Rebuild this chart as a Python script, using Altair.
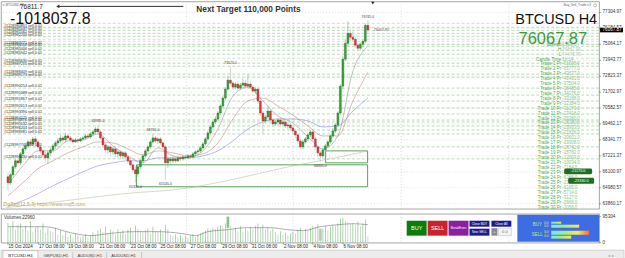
import altair as alt
import pandas as pd

FONT = "Liberation Sans"

# ---------------- BTCUSD H4 candles ----------------
opens = [65755,65335,65895,66455,66875,66735,67365,67715,67925,68205,
         68065,68415,68205,67855,67575,67295,67085,67435,67645,67925,
         68135,68275,68485,68345,68625,68485,68345,68205,68345,68275,
         68415,68485,68625,68555,68765,68905,69115,68905,68485,67995,
         67645,67855,67505,67715,67365,67505,67225,67435,67155,66875,
         66595,66245,65965,66455,66875,67225,67575,67855,68205,68485,
         68275,68415,68135,67855,66735,67015,66875,67015,66875,67085,
         67015,67155,67085,67225,67155,67365,67505,67575,67785,68065,
         68415,68835,69255,69605,69815,70235,70725,71285,71915,72545,
         72335,72055,72265,71985,72195,72335,72125,72265,72055,71775,
         71915,71075,70235,69675,69955,70375,69745,69465,69605,69745,
         69465,69605,69325,69395,69185,68975,68695,68275,67855,68205,
         68415,68695,68905,68415,67855,67435,67225,67645,67925,68205,
         68625,68975,69395,70235,72125,74015,75135,75835,75555,75415,
         74995,74785,75065,75275,76395]
highs = [66035,66035,66595,67015,67085,67505,67855,68065,68345,68415,
         68555,68625,68345,67995,67715,67505,67575,67785,68065,68275,
         68485,68695,68625,68835,68765,68625,68485,68485,68485,68555,
         68625,68765,68765,68905,69045,69255,69395,69045,68625,68135,
         67995,67995,67855,67855,67715,67645,67575,67575,67295,67085,
         66735,66455,66595,67015,67365,67715,67995,68345,68765,68625,
         68555,68555,68275,67995,67155,67155,67155,67155,67225,67225,
         67295,67295,67365,67365,67505,67645,67715,67925,68205,68555,
         68975,69395,69745,70025,70375,70865,71425,72055,72825,73525,
         72475,72405,72475,72335,72685,72545,72965,72475,72195,72055,
         72055,71215,70375,70095,70725,70515,69885,69745,69885,69885,
         69745,69745,69535,69535,69325,69115,68835,68415,68345,68555,
         68835,69045,69045,68555,67995,67575,67785,68065,68345,68765,
         69185,69535,70375,72265,74225,75415,76675,76115,75975,75555,
         75135,75205,75415,76535,76745]
lows = [64775,65195,65755,66315,66525,66595,67225,67575,67785,67855,
        67925,68065,67715,67365,67085,66805,66665,67225,67505,67715,
        67855,68135,68205,68205,68345,68205,68065,68135,68135,68205,
        68275,68345,68415,68415,68625,68765,68765,68345,67785,67435,
        67365,67225,67295,67155,67085,67015,67015,66945,66665,66385,
        66035,65335,65755,66315,66735,67085,67435,67715,68065,68135,
        68065,67995,67715,65545,66385,66665,66735,66735,66805,66875,
        66875,66945,67015,67015,67085,67225,67365,67435,67645,67925,
        68275,68695,69115,69465,69675,70095,70585,71145,71775,72195,
        71845,71915,71775,71845,71985,71915,71985,71915,71635,71565,
        70865,70025,68765,69465,69815,69535,69255,69325,69395,69255,
        69325,69185,69115,68975,68765,68485,68065,67715,67715,68065,
        68275,68555,68205,67645,67155,66805,67085,67505,67785,68065,
        68485,68835,69255,70095,71915,73875,74925,75275,75275,74785,
        74575,74645,74855,75135,75905]
closes = [65335,65895,66455,66875,66735,67365,67715,67925,68205,68065,
          68415,68205,67855,67575,67295,67085,67435,67645,67925,68135,
          68275,68485,68345,68625,68485,68345,68205,68345,68275,68415,
          68485,68625,68555,68765,68905,69115,68905,68485,67995,67645,
          67855,67505,67715,67365,67505,67225,67435,67155,66875,66595,
          66245,65965,66455,66875,67225,67575,67855,68205,68485,68275,
          68415,68135,67855,66735,67015,66875,67015,66875,67085,67015,
          67155,67085,67225,67155,67365,67505,67575,67785,68065,68415,
          68835,69255,69605,69815,70235,70725,71285,71915,72545,72335,
          72055,72265,71985,72195,72335,72125,72265,72055,71775,71915,
          71075,70235,69675,69955,70375,69745,69465,69605,69745,69465,
          69605,69325,69395,69185,68975,68695,68275,67855,68205,68415,
          68695,68905,68415,67855,67435,67225,67645,67925,68205,68625,
          68975,69395,70235,72125,74015,75135,75835,75555,75415,74995,
          74785,75065,75275,76395,76067.87]
volumes = [72000,55000,80000,48000,65000,70000, 50000,62000,45000,78000,40000,55000,
           60000,48000,70000,35000,52000,44000, 38000,55000,30000,46000,28000,40000,
           22000,30000,18000,35000,25000,20000, 24000,32000,20000,28000,38000,30000,
           45000,52000,40000,58000,36000,48000, 42000,30000,50000,38000,46000,34000,
           48000,55000,40000,62000,50000,44000, 38000,46000,52000,35000,58000,42000,
           40000,48000,36000,66000,50000,30000, 24000,30000,20000,28000,18000,25000,
           20000,26000,32000,22000,28000,35000, 38000,45000,52000,48000,55000,50000,
           58000,65000,60000,70000,95304,62000, 48000,55000,42000,60000,38000,52000,
           45000,58000,50000,62000,70000,55000, 66000,48000,58000,44000,52000,40000,
           30000,42000,28000,36000,25000,34000, 40000,35000,48000,55000,42000,50000,
           46000,55000,62000,58000,68000,51000, 52000,60000,45000,58000,66000,62000,
           70000,88000,92000,80000,75000,68000, 72000,65000,78000,60000,70000,85000,
           22960]

# ---------------- indicator lines (read at sample bars) ----------------
ma_idx = [0,6,12,18,24,30,36,42,48,54,60,66,72,78,84,90,96,102,108,114,120,126,132,138,144]
ma_fast = [65195,66525,67575,67575,68275,68345,68765,67925,67225,66735,67785,67225,67085,
           67575,69115,71425,72055,71075,70025,69535,68555,67715,68625,73175,74925]
ma_mid = [64425,65335,66315,66875,67435,67855,68205,68135,67715,67295,67575,67435,67225,
          67365,68135,69815,71075,71285,70725,70095,69325,68625,68625,71075,73105]
ma_slow = [63725,64075,64565,65125,65615,66105,66525,66735,66875,66875,67085,67085,67085,
           67225,67575,68275,69115,69605,69815,69815,69675,69255,69325,70375,71285]
ma_long_idx = [-0.8,23,46,70,93,114,129,144]
ma_long = [63585,64075,64565,64915,65685,66525,67015,67575]
vol_ma_idx = [0,15,25,33,40,50,60,70,75,80,88,95,105,112,118,125,132,138,144]
vol_ma = [58650,58650,36655,25660,32990,40320,40320,32990,25660,40320,47650,54980,
          54980,47650,43985,58650,65980,69645,65980]

# ---------------- axes, levels, labels ----------------
price_ticks = [77304.97,76184.57,75064.17,73943.77,72823.37,71702.97,70582.57,
               69462.17,68341.77,67221.37,66100.97,64980.57,63860.17]
current_price = 76067.87
volume_max = 95304
date_pos = [0,12.2,23.9,36.5,49.0,60.8,72.9,85.5,97.3,110.2,122.0,134.1]
date_labels = ["15 Oct 2024","17 Oct 08:00","19 Oct 08:00","21 Oct 08:00","23 Oct 08:00",
               "25 Oct 08:00","27 Oct 08:00","29 Oct 08:00","31 Oct 08:00","2 Nov 08:00",
               "4 Nov 08:00","6 Nov 08:00"]
grid_pos = [28.2,71.4,114.1,157.3,200.4]

trade_levels = [76255,76045,75835,75625,75065,74925,74645,74365,73735,73525,72965,72755,
                71985,71495,71075,70585,70165,69745,69605,69325,69045,68765,67855,67015]
trade_ids = ["#1228980891","#1228981037","#1228981562","#1228982204","#1228983771",
             "#1228984318","#1228985006","#1228985942","#1228986630","#1228987215",
             "#1228988409","#1228989173","#1228990254","#1228991088","#1228991867",
             "#1228992613","#1228993390","#1228994125","#1228994876","#1228995532",
             "#1228996204","#1228996981","#1228997745","#1228998430"]
extra_levels = [76535,75415,75275,74085]

zone_i1 = [127.1,51.4]
zone_i2 = [143.9,143.9]
zone_hi = [67575,66595]
zone_lo = [66735,65055]

zz_idx = [36,51,58,63,89,125,144]
zz_kind = ["H","L","H","L","H","L","H"]

info_names = ["Spread","H","L","Candle Time"] + ["Trade %d Pr" % n for n in range(1, 31)]
info_values = ["1560.0","76887.99","74476.76","1h:14",
               "-61608.0","-55777.0","-43677.0","-41431.0","-37504.0","-36485.0","-34176.0",
               "-33188.0","-32384.0","-31273.0","-27418.0","-26380.0","-26380.0","-23933.0",
               "-21826.0","-20601.0","-19308.0","-18742.0","-15782.0","-12003.0","-10034.0",
               "-7184.0","-21170.0","-6388.0","-23330.0","-6165.0","-5714.0","-3127.0",
               "-2968.0","-2056.0"]

# ---------------- frames ----------------
n = len(opens)
cdf = pd.DataFrame({"i": list(range(n)), "o": opens, "h": highs, "l": lows, "c": closes, "v": volumes})
cdf["dir"] = ["up" if c >= o else "down" for o, c in zip(opens, closes)]
cdf["vdir"] = ["up" if k == 0 or volumes[k] >= volumes[k - 1] else "down" for k in range(n)]

XS = alt.Scale(domain=[-0.784, 234.51], nice=False, zero=False)
YS = alt.Scale(domain=[63509.06, 78075.30], nice=False, zero=False)
VS = alt.Scale(domain=[0, 106300], nice=False)


def X(f):
    return alt.X(f, type="quantitative", scale=XS, axis=None)


def Y(f):
    return alt.Y(f, type="quantitative", scale=YS, axis=None)


def V(f):
    return alt.Y(f, type="quantitative", scale=VS, axis=None)


def one():
    return pd.DataFrame({"a": [0]})


def txt(t, x, y, size, color, align="left", weight="normal", baseline="middle", font=FONT):
    return alt.Chart(pd.DataFrame({"t": [t]})).mark_text(
        align=align, baseline=baseline, fontSize=size, color=color, fontWeight=weight, font=font
    ).encode(x=alt.value(x), y=alt.value(y), text="t:N")


def box(x1, x2, y1, y2, fill, stroke="", sw=0.0, r=0.0):
    kw = dict(fill=fill)
    if stroke:
        kw["stroke"] = stroke
        kw["strokeWidth"] = sw
    if r:
        kw["cornerRadius"] = r
    return alt.Chart(one()).mark_rect(**kw).encode(
        x=alt.value(x1), x2=alt.value(x2), y=alt.value(y1), y2=alt.value(y2))


# ---------------- main price panel ----------------
tdf = pd.DataFrame({"p": price_ticks, "t": ["%.2f" % p for p in price_ticks]})
hgrid = alt.Chart(tdf).mark_rule(color="#cdcdcd", strokeDash=[1, 2], strokeWidth=0.6).encode(y=Y("p"))
pticks = alt.Chart(tdf).mark_rule(color="#666", strokeWidth=0.6).encode(
    y=Y("p"), x=alt.value(600), x2=alt.value(602))
plabels = alt.Chart(tdf).mark_text(align="left", fontSize=4.6, font=FONT, color="#333").encode(
    y=Y("p"), x=alt.value(603.5), text="t:N")

vgrid = alt.Chart(pd.DataFrame({"i": grid_pos})).mark_rule(
    color="#bdbdbd", strokeDash=[1, 2], strokeWidth=0.6).encode(x=X("i"))

lvl = pd.DataFrame({"p": trade_levels + extra_levels,
                    "kind": ["trade"] * len(trade_levels) + ["extra"] * len(extra_levels)})
levels = alt.Chart(lvl).mark_rule(strokeDash=[3, 2], strokeWidth=0.6).encode(
    y=Y("p"), color=alt.Color("kind:N", scale=alt.Scale(domain=["trade", "extra"],
                                                        range=["#86c286", "#b5c9b5"]), legend=None))

lab = pd.DataFrame({"p": trade_levels, "t": [tid + " sell 0.01" for tid in trade_ids]})
level_labels = alt.Chart(lab).mark_text(align="left", baseline="bottom", fontSize=3.8, font=FONT,
                                        color="#2e2e2e", dy=0.3).encode(
    x=alt.value(3), y=Y("p"), text="t:N")

zdf = pd.DataFrame({"i1": zone_i1, "i2": zone_i2, "hi": zone_hi, "lo": zone_lo})
zones = alt.Chart(zdf).mark_rect(fillOpacity=0, stroke="#2f8a2f", strokeWidth=0.8).encode(
    x=X("i1"), x2="i2", y=Y("hi"), y2="lo")


def ma_line(idx, vals, color, w=0.55):
    d = pd.DataFrame({"i": idx, "p": vals})
    return alt.Chart(d).mark_line(color=color, strokeWidth=w, interpolate="monotone").encode(
        x=X("i"), y=Y("p"))


dirs = alt.Scale(domain=["up", "down"], range=["#35a835", "#e5353d"])
edge = alt.Scale(domain=["up", "down"], range=["#155515", "#8a1d1d"])
wicks = alt.Chart(cdf).mark_rule(strokeWidth=0.7).encode(
    x=X("i"), y=Y("l"), y2="h", color=alt.Color("dir:N", scale=dirs, legend=None))
bodies = alt.Chart(cdf).mark_bar(size=1.9, strokeWidth=0.35).encode(
    x=X("i"), y=Y("o"), y2="c",
    fill=alt.Fill("dir:N", scale=dirs, legend=None),
    stroke=alt.Stroke("dir:N", scale=edge, legend=None))

zz = pd.DataFrame({"i": zz_idx, "kind": zz_kind})
zz["p"] = [highs[k] if kd == "H" else lows[k] for k, kd in zip(zz_idx, zz_kind)]
zz["t"] = ["%.1f" % p for p in zz["p"]]
zz_hi = alt.Chart(zz[zz.kind == "H"]).mark_text(fontSize=3.6, font=FONT, color="#444", baseline="bottom", dy=-1.5).encode(
    x=X("i"), y=Y("p"), text="t:N")
zz_lo = alt.Chart(zz[zz.kind == "L"]).mark_text(fontSize=3.6, font=FONT, color="#444", baseline="top", dy=2).encode(
    x=X("i"), y=Y("p"), text="t:N")

last_lbl = alt.Chart(pd.DataFrame({"i": [n - 1], "p": [current_price], "t": ["%.2f" % current_price]})).mark_text(
    fontSize=3.6, font=FONT, color="#555", align="left", dx=6).encode(x=X("i"), y=Y("p"), text="t:N")

price_box = alt.Chart(one()).mark_rect(fill="#000").encode(
    x=alt.value(601), x2=alt.value(624),
    y=alt.datum(current_price + 165), y2=alt.datum(current_price - 165))
price_box_txt = alt.Chart(pd.DataFrame({"t": ["%.2f" % current_price]})).mark_text(
    align="left", fontSize=4.6, font=FONT, color="#fff").encode(
    x=alt.value(603.5), y=alt.datum(current_price), text="t:N")

# right-hand info column
info = pd.DataFrame({"name": info_names, "val": info_values})
info["ypx"] = [44, 49, 53.8, 58.3] + [62.7 + 4.98 * k for k in range(30)]
info["vcol"] = ["black", "green", "green", "black"] + ["black"] * 30
info_lbl = alt.Chart(info).mark_text(align="right", fontSize=4.5, font=FONT, color="#4caf50").encode(
    x=alt.value(562), y=alt.Y("ypx:Q", scale=None), text="name:N")
info_val = alt.Chart(info).mark_text(align="left", fontSize=4.5, font=FONT).encode(
    x=alt.value(563), y=alt.Y("ypx:Q", scale=None), text="val:N",
    color=alt.Color("vcol:N", scale=alt.Scale(domain=["black", "green"], range=["#111", "#4caf50"]), legend=None))

main_layers = [
    hgrid, vgrid, levels, zones,
    ma_line(ma_long_idx, ma_long, "#b9c2a3", 0.6),
    ma_line(ma_idx, ma_slow, "#7c82d2"),
    ma_line(ma_idx, ma_mid, "#c07f7a"),
    ma_line(ma_idx, ma_fast, "#8c8c8c"),
    wicks, bodies, zz_hi, zz_lo, last_lbl, level_labels, info_lbl, info_val,
    box(565, 593, 167.5, 173.5, "#1f6e1f", r=1.5),
    txt("-21170.0", 579, 170.5, 3.8, "#fff", align="center"),
    box(569, 595, 177, 183, "#1f6e1f", r=1.5),
    txt("-23330.0", 582, 180, 3.8, "#fff", align="center"),
    pticks, plabels, price_box, price_box_txt,
    # header
    txt("\u25be BTCUSD,H4", 2, 3.5, 3.2, "#555"),
    txt("76811.7", 19, 6, 6.5, "#222"),
    alt.Chart(one()).mark_rule(color="#333", strokeWidth=1).encode(
        x=alt.value(57), x2=alt.value(183), y=alt.value(5)),
    alt.Chart(one()).mark_point(shape="triangle-left", filled=True, size=14, color="#333", opacity=1).encode(
        x=alt.value(57), y=alt.value(5)),
    alt.Chart(one()).mark_point(shape="triangle-down", filled=True, size=10, color="#222", opacity=1).encode(
        x=alt.value(373), y=alt.value(1.8)),
    txt("-1018037.8", 9, 23, 16, "#111", baseline="alphabetic"),
    txt("Next Target 110,000 Points", 196, 11, 8.3, "#333", weight="bold", baseline="alphabetic"),
    txt("BTCUSD H4", 598, 23, 14.5, "#111", align="right", baseline="alphabetic"),
    txt("76067.87", 588, 42.5, 16.5, "#3b9b3b", align="right", baseline="alphabetic"),
    txt("Buy_Sell_Trade v.3", 592, 4, 3.2, "#666", align="right"),
    alt.Chart(one()).mark_point(shape="circle", size=9, color="#666", strokeWidth=0.6).encode(
        x=alt.value(596), y=alt.value(4)),
    txt("ZigZag(12,5,3) https://www.mql5.com", 2, 203, 5, "#c9a640"),
]
main = alt.layer(*main_layers).properties(width=600, height=208)

# ---------------- volume panel ----------------
vtdf = pd.DataFrame({"v": [0, volume_max], "t": ["0", str(volume_max)]})
vlabels = alt.Chart(vtdf).mark_text(align="left", fontSize=4.6, font=FONT, color="#333").encode(
    y=V("v"), x=alt.value(603.5), text="t:N")
vticks = alt.Chart(vtdf).mark_rule(color="#666", strokeWidth=0.6).encode(
    y=V("v"), x=alt.value(600), x2=alt.value(602))
vgrid2 = alt.Chart(pd.DataFrame({"i": grid_pos})).mark_rule(
    color="#bdbdbd", strokeDash=[1, 2], strokeWidth=0.6).encode(x=X("i"))
vbars = alt.Chart(cdf).mark_bar(size=0.7).encode(
    x=X("i"), y=V("v"),
    color=alt.Color("vdir:N", scale=alt.Scale(domain=["up", "down"], range=["#8fcb8f", "#eeb0b0"]), legend=None))
vma = alt.Chart(pd.DataFrame({"i": vol_ma_idx, "v": vol_ma})).mark_line(
    color="#777", strokeWidth=0.6, interpolate="monotone").encode(x=X("i"), y=V("v"))
hl = pd.DataFrame({"i": [88, 125], "v1": [55000, 7000], "v2": [volume_max, 51000], "k": ["r", "g"]})
vhl = alt.Chart(hl).mark_bar(size=2.6).encode(
    x=X("i"), y=V("v1"), y2="v2",
    color=alt.Color("k:N", scale=alt.Scale(domain=["r", "g"], range=["#e0262e", "#1c8a1c"]), legend=None))
ddf = pd.DataFrame({"i": date_pos, "t": date_labels})
dlabels = alt.Chart(ddf).mark_text(align="left", fontSize=4.5, font=FONT, color="#222", dx=0.5).encode(
    x=X("i"), y=alt.value(33.5), text="t:N")
dticks = alt.Chart(ddf).mark_rule(color="#666", strokeWidth=0.6).encode(
    x=X("i"), y=alt.value(29), y2=alt.value(31))

grad1 = alt.LinearGradient(gradient="linear", x1=0, x2=1, y1=0, y2=0, stops=[
    alt.GradientStop(color="#7fe3ff", offset=0), alt.GradientStop(color="#9ef07a", offset=0.45),
    alt.GradientStop(color="#ffe84a", offset=1)])
grad2 = alt.LinearGradient(gradient="linear", x1=0, x2=1, y1=0, y2=0, stops=[
    alt.GradientStop(color="#7fe3ff", offset=0), alt.GradientStop(color="#9ef07a", offset=0.35),
    alt.GradientStop(color="#ffe84a", offset=0.7), alt.GradientStop(color="#ff6a3a", offset=1)])


def gbar(x1, x2, y1, y2, g):
    return alt.Chart(one()).mark_rect(fill=g).encode(
        x=alt.value(x1), x2=alt.value(x2), y=alt.value(y1), y2=alt.value(y2))


vol_layers = [
    vgrid2, vbars, vma, vhl, dticks, dlabels, vticks, vlabels,
    txt("Volumes 22960", 3, 4.5, 4.5, "#333"),
    # trade buttons
    box(407, 427, 7, 22, "#0b7d0b"), txt("BUY", 417, 14.5, 5.5, "#fff", align="center"),
    box(428, 448, 7, 22, "#c8232b"), txt("SELL", 438, 14.5, 5.5, "#fff", align="center"),
    box(449, 469, 7, 22, "#8c1fa0"), txt("BreakEven", 459, 14.5, 3.2, "#fff", align="center"),
    box(470, 490, 7, 13, "#1c1c8c"), txt("Close BUY", 480, 10, 3.2, "#fff", align="center"),
    box(470, 490, 15, 22, "#1c1c8c"), txt("New SELL", 480, 18.5, 3.2, "#fff", align="center"),
    box(492, 512, 7, 13, "#1c1c8c"), txt("Close All", 502, 10, 3.2, "#fff", align="center"),
    box(492, 498, 14.5, 22, "#8a8a8a"), txt("+", 495, 18, 4, "#fff", align="center"),
    box(499, 512, 14.5, 22, "#f4f4f4", stroke="#aaa", sw=0.4),
    txt("0.0", 505.5, 18.3, 4, "#777", align="center"),
    # info panel
    box(518, 600, 1, 28, "#3e6de3"),
    txt("BUY", 538, 11, 4.5, "#b8f06a", align="center"),
    txt("SELL", 538, 21, 4.5, "#b8f06a", align="center"),
    txt("0.0", 545, 8.8, 3, "#ffe84a"), txt("0.0", 545, 12.5, 3, "#ffe84a"),
    txt("0.0", 545, 18.3, 3, "#ffe84a"), txt("0.0", 545, 22, 3, "#ffe84a"),
    gbar(552, 562, 8, 10, grad1), gbar(552, 580, 11, 14, grad1),
    gbar(552, 590, 17, 21, grad2), gbar(552, 572, 22, 25, grad1),
    # tab bar
    box(0, 625, 36.5, 48, "#ececec", stroke="#b8b8b8", sw=0.5),
    box(2, 37, 37, 47.5, "#ffffff", stroke="#9a9a9a", sw=0.5),
    txt("BTCUSD,H4", 19.5, 42.5, 4.3, "#222", align="center"),
    txt("GBPUSD,H1", 55, 42.5, 4.3, "#444", align="center"),
    txt("AUDUSD,H1", 89, 42.5, 4.3, "#444", align="center"),
    txt("AUDUSD,H1", 123, 42.5, 4.3, "#444", align="center"),
    alt.Chart(pd.DataFrame({"x": [72, 106, 141]})).mark_rule(color="#b0b0b0", strokeWidth=0.6).encode(
        x=alt.X("x:Q", scale=None), y=alt.value(38.5), y2=alt.value(46.5)),
    txt("\u25c2  \u25b8", 612, 42.5, 4, "#999", align="center"),
]
vol = alt.layer(*vol_layers).properties(width=600, height=29)

chart = alt.vconcat(main, vol, spacing=2).properties(
    padding={"left": 0, "top": 0, "right": 0, "bottom": 0},
    background="#ffffff",
).configure_view(stroke="#8f8f8f", strokeWidth=0.8)

chart.save("out.html", embed_options={"renderer": "svg", "actions": False})
